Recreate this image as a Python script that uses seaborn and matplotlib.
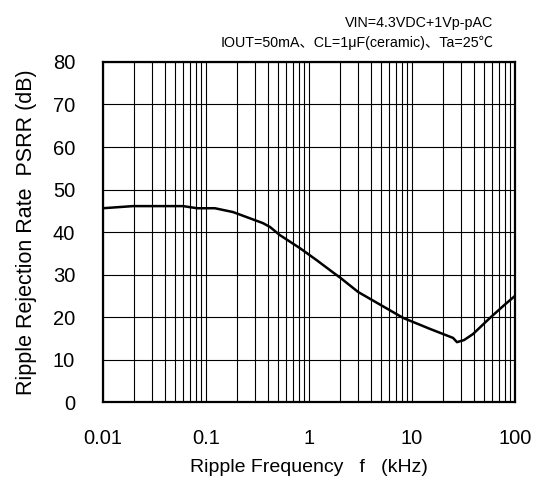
import seaborn as sns
import matplotlib.pyplot as plt
import numpy as np
import pandas as pd
from matplotlib.ticker import FixedLocator, NullFormatter

# PSRR vs ripple frequency
freq_khz = [0.01, 0.0196, 0.06, 0.082, 0.122, 0.183, 0.357, 0.418, 0.52,
            0.818, 1.2, 1.71, 2.0, 3.0, 5.0, 8.2, 15.0, 25.0, 27.3, 32.0, 39.0,
            57.0, 80.0, 100.0]
psrr_db = [45.6, 46.1, 46.1, 45.6, 45.6, 44.7, 42.1, 41.2, 39.3,
           36.2, 33.3, 30.5, 29.3, 25.9, 22.8, 19.8, 17.2, 15.1, 14.1, 14.6, 16.0,
           19.8, 23.0, 25.0]

x_ticks = [0.01, 0.1, 1, 10, 100]
x_ticklabels = ["0.01", "0.1", "1", "10", "100"]
y_ticks = [0, 10, 20, 30, 40, 50, 60, 70, 80]

df = pd.DataFrame({"f": freq_khz, "psrr": psrr_db})

sns.set_style("white")
plt.rcParams['font.family'] = ['Liberation Sans', 'DejaVu Sans']
plt.rcParams.update({"text.color": "black", "axes.labelcolor": "black",
                     "xtick.color": "black", "ytick.color": "black"})

fig = plt.figure(figsize=(5.36, 4.88), dpi=100)
ax = fig.add_axes([0.192, 0.176, 0.769, 0.697])

sns.lineplot(data=df, x="f", y="psrr", ax=ax, color="black", linewidth=1.8)

ax.set_xscale("log")
ax.set_xlim(0.01, 100)
ax.set_ylim(0, 80)

# minor log grid lines 2..9 per decade
minors = [m * 10.0 ** d for d in range(-2, 2) for m in range(2, 10)]
ax.xaxis.set_major_locator(FixedLocator(x_ticks))
ax.xaxis.set_minor_locator(FixedLocator(minors))
ax.xaxis.set_minor_formatter(NullFormatter())
ax.set_xticklabels(x_ticklabels)
ax.set_yticks(y_ticks)

ax.grid(True, which="both", axis="x", color="black", linewidth=0.8)
ax.grid(True, which="major", axis="y", color="black", linewidth=0.8)
ax.tick_params(axis="x", which="both", length=0, labelsize=14.5, pad=19)
ax.tick_params(axis="y", which="both", length=0, labelsize=14.5, pad=20)

for s in ax.spines.values():
    s.set_color("black")
    s.set_linewidth(1.6)

ax.set_xlabel("Ripple Frequency   f   (kHz)", fontsize=14, labelpad=8)
ax.set_ylabel("Ripple Rejection Rate  PSRR (dB)", fontsize=15.5, labelpad=11)

fig.text(0.92, 0.952, "VIN=4.3VDC+1Vp-pAC", ha="right", va="center", fontsize=10.3)
fig.text(0.92, 0.912, "IOUT=50mA\u3001CL=1\u03bcF(ceramic)\u3001Ta=25\u2103",
         ha="right", va="center", fontsize=10.3,
         family=['Liberation Sans', 'Noto Sans CJK JP', 'DejaVu Sans'])

fig.savefig("out.png", dpi=100)
